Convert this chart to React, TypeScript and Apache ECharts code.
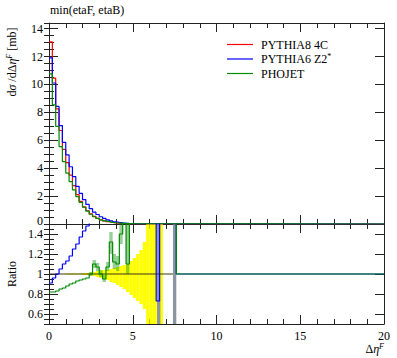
import React, { useEffect, useRef } from 'react';
import * as echarts from 'echarts';

// ---- data ----
const BIN = 0.2; // histogram bin width in Δη^F
const xTicks = [0, 5, 10, 15, 20];
const yTopTicks = [0, 2, 4, 6, 8, 10, 12, 14];
const yTopLabels = [2, 4, 6, 8, 10, 12, 14]; // "0" is drawn separately, lifted off the ratio panel's "1.4"
const yRatioTicks = [0.6, 0.8, 1, 1.2, 1.4];

// dσ/dΔη^F [mb], bins of 0.2 starting at 0
const pythia8 = [13.05, 10.45, 8.25, 6.7, 5.35, 4.4, 3.5, 2.75, 2.1, 1.62, 1.23, 0.95, 0.72, 0.54, 0.4, 0.3, 0.22, 0.16, 0.11, 0.08, 0.055, 0.04, 0.028, 0.02, 0.013];
const pythia6 = [11.9, 10.1, 8.42, 7.05, 5.85, 4.95, 4.1, 3.4, 2.7, 2.2, 1.75, 1.4, 1.1, 0.85, 0.68, 0.52, 0.4, 0.3, 0.22, 0.16, 0.12, 0.085, 0.06, 0.04, 0.028];
const phojet = [10.75, 8.54, 7.0, 5.55, 4.47, 3.65, 3.04, 2.44, 1.96, 1.55, 1.2, 0.92, 0.7, 0.52, 0.4, 0.3, 0.22, 0.17, 0.12, 0.09, 0.07, 0.05, 0.04, 0.03, 0.02];

// ratio to PYTHIA8 4C, bins of 0.2 from 0 to 7.6 (values above 1.5 are off-scale)
const ratioPythia6 = [0.91, 0.96, 1.0, 1.05, 1.1, 1.13, 1.18, 1.25, 1.3, 1.37, 1.43, 1.48,
  1.6, 1.7, 1.8, 1.8, 1.8, 1.8, 1.8, 1.8, 1.8, 1.8, 1.8, 1.8, 1.8, 1.8, 1.8, 1.8, 1.8, 1.8, 1.8, 1.8,
  0.73, 1.8, 1.8, 1.8, 1.8, 1.8];
const ratioPhojet = [0.82, 0.82, 0.83, 0.85, 0.86, 0.88, 0.9, 0.91, 0.93, 0.94, 0.95, 0.96,
  1.0, 1.1, 1.07, 1.0, 0.95, 1.07, 1.32, 1.12, 1.1, 1.4, 1.8, 1.1,
  1.8, 1.8, 1.8, 1.8, 1.8, 1.8, 1.8, 1.8, 1.8, 1.8, 1.8, 1.8, 1.8, 1.8];
const refEnd = 7.4;

// PYTHIA8 uncertainty band (yellow), bins from index 5 (Δη = 1.0)
const yellowStart = 5;
const yellowLo = [0.995, 0.995, 0.995, 0.995, 0.995, 0.99, 0.99, 0.985, 0.98,
  0.97, 0.96, 0.95, 0.94, 0.92, 0.91, 0.89, 0.87, 0.85, 0.82, 0.79, 0.76, 0.73, 0.7, 0.65,
  0.4, 0.4, 0.4, 0.4, 0.4];
const yellowHi = [1.005, 1.005, 1.005, 1.005, 1.005, 1.01, 1.01, 1.015, 1.02,
  1.03, 1.035, 1.04, 1.045, 1.05, 1.06, 1.07, 1.08, 1.09, 1.1, 1.13, 1.16, 1.2, 1.24, 1.32,
  1.6, 1.6, 1.6, 1.6, 1.6];

// PHOJET ratio uncertainty band, bins from index 12 (Δη = 2.4)
const greenBandStart = 12;
const greenBandLo = [0.98, 1.06, 1.03, 0.97, 0.92, 1.03, 1.2, 1.05, 1.03, 1.3, 1.5, 1.0];
const greenBandHi = [1.02, 1.14, 1.11, 1.04, 0.99, 1.12, 1.42, 1.2, 1.18, 1.5, 1.6, 1.6];

// very large uncertainty bins (full height)
const wideBandX0 = [6.45, 7.4];
const wideBandX1 = [6.65, 7.6];

// ---- helpers ----
const r2 = (v: number) => Math.round(v * 1000) / 1000;

function histPoints(vals: number[], tail: number) {
  const pts: number[][] = vals.map((v, i) => [r2(i * BIN), v]);
  pts.push([r2(vals.length * BIN), tail]);
  pts.push([20, tail]);
  return pts;
}

function bandData(start: number, lo: number[], hi: number[]) {
  return lo.map((l, i) => [r2((start + i) * BIN), r2((start + i + 1) * BIN), l, hi[i]]);
}

function bandRender(fill: string) {
  return (params: any, api: any) => {
    const p0 = api.coord([api.value(0), api.value(3)]);
    const p1 = api.coord([api.value(1), api.value(2)]);
    const shape = echarts.graphic.clipRectByRect(
      { x: p0[0], y: p0[1], width: p1[0] - p0[0], height: p1[1] - p0[1] },
      { x: params.coordSys.x, y: params.coordSys.y, width: params.coordSys.width, height: params.coordSys.height }
    );
    return shape ? { type: 'rect', shape, style: { fill } } : null;
  };
}

const FONT = "'Liberation Serif', 'DejaVu Serif', serif";
const AX = '#222';

function xAxisDef(gridIndex: number, position: string, labels: boolean) {
  return {
    type: 'value', gridIndex, position, min: 0, max: 20, interval: 5,
    axisLine: { show: true, onZero: false, lineStyle: { color: AX, width: 1 } },
    axisTick: { show: true, inside: true, length: 9, lineStyle: { color: AX } },
    minorTick: { show: true, splitNumber: 5, length: 5, lineStyle: { color: AX } },
    axisLabel: { show: labels, margin: 6, color: '#000', fontFamily: FONT, fontSize: 12, customValues: xTicks },
    splitLine: { show: false },
  };
}

function yMajor(gridIndex: number, position: string, min: number, max: number, ticks: number[], labels: number[] | null, padding: number[]) {
  return {
    type: 'value', gridIndex, position, min, max,
    axisLine: { show: true, onZero: false, lineStyle: { color: AX, width: 1 } },
    axisTick: { show: true, inside: true, length: 9, customValues: ticks, lineStyle: { color: AX } },
    axisLabel: { show: !!labels, margin: 6, color: '#000', fontFamily: FONT, fontSize: 12, padding, customValues: labels || ticks },
    splitLine: { show: false },
  };
}

function yMinor(gridIndex: number, position: string, min: number, max: number, interval: number) {
  return {
    type: 'value', gridIndex, position, min, max, interval,
    axisLine: { show: false },
    axisTick: { show: true, inside: true, length: 5, lineStyle: { color: AX } },
    axisLabel: { show: false },
    splitLine: { show: false },
  };
}

const baseText = { fontFamily: FONT, fontSize: 12, fill: '#000' };
const textRich = {
  i: { fontFamily: FONT, fontSize: 12, fontStyle: 'italic', fill: '#000' },
  sup: { fontFamily: FONT, fontSize: 8, fontStyle: 'italic', fill: '#000', padding: [0, 0, 6, 0] },
  supn: { fontFamily: FONT, fontSize: 8, fill: '#000', padding: [0, 0, 6, 0] },
};

export default function App() {
  const ref = useRef<HTMLDivElement>(null);
  useEffect(() => {
    if (!ref.current) return;
    const chart = echarts.init(ref.current, null, { renderer: 'svg' });
    const lineCommon = { type: 'line', step: 'end', showSymbol: false, symbol: 'none', clip: true, z: 5 };
    const option: any = {
      animation: false,
      backgroundColor: '#fff',
      grid: [
        { left: 49, top: 23, width: 335, height: 201 },
        { left: 49, top: 224, width: 335, height: 100 },
      ],
      xAxis: [
        xAxisDef(0, 'bottom', false),
        xAxisDef(0, 'top', false),
        xAxisDef(1, 'bottom', true),
        xAxisDef(1, 'top', false),
      ],
      yAxis: [
        yMajor(0, 'left', 0, 14.4, yTopTicks, yTopLabels, [0, 0, 0, 0]),
        yMinor(0, 'left', 0, 14.4, 0.5),
        yMajor(0, 'right', 0, 14.4, yTopTicks, null, [0, 0, 0, 0]),
        yMinor(0, 'right', 0, 14.4, 0.5),
        yMajor(1, 'left', 0.5, 1.5, yRatioTicks, yRatioTicks, [3, 0, 0, 0]),
        yMinor(1, 'left', 0.5, 1.5, 0.05),
        yMajor(1, 'right', 0.5, 1.5, yRatioTicks, null, [0, 0, 0, 0]),
        yMinor(1, 'right', 0.5, 1.5, 0.05),
      ],
      series: [
        { ...lineCommon, name: 'PYTHIA8 4C', xAxisIndex: 0, yAxisIndex: 0, data: histPoints(pythia8, 0), lineStyle: { color: '#ff0000', width: 1.2 } },
        { ...lineCommon, name: 'PYTHIA6 Z2*', xAxisIndex: 0, yAxisIndex: 0, data: histPoints(pythia6, 0), lineStyle: { color: '#0000ff', width: 1.2 } },
        { ...lineCommon, name: 'PHOJET', xAxisIndex: 0, yAxisIndex: 0, data: histPoints(phojet, 0), lineStyle: { color: '#008a00', width: 1.2 } },
        {
          type: 'custom', xAxisIndex: 2, yAxisIndex: 4, z: 1,
          renderItem: bandRender('#ffff00'),
          encode: { x: [0, 1], y: [2, 3] },
          data: bandData(yellowStart, yellowLo, yellowHi),
        },
        {
          type: 'custom', xAxisIndex: 2, yAxisIndex: 4, z: 2,
          renderItem: bandRender('rgba(0,138,0,0.4)'),
          encode: { x: [0, 1], y: [2, 3] },
          data: bandData(greenBandStart, greenBandLo, greenBandHi),
        },
        {
          type: 'custom', xAxisIndex: 2, yAxisIndex: 4, z: 2,
          renderItem: bandRender('#8c96a2'),
          encode: { x: [0, 1], y: [2, 3] },
          data: wideBandX0.map((x0, i) => [x0, wideBandX1[i], 0.4, 1.6]),
        },
        { ...lineCommon, step: false, xAxisIndex: 2, yAxisIndex: 4, data: [[0, 1], [refEnd, 1]], lineStyle: { color: '#3a3a10', width: 1.2 } },
        { ...lineCommon, xAxisIndex: 2, yAxisIndex: 4, data: histPoints(ratioPythia6, 1), lineStyle: { color: '#0000ff', width: 1.2 } },
        { ...lineCommon, xAxisIndex: 2, yAxisIndex: 4, data: histPoints(ratioPhojet, 1), lineStyle: { color: '#008a00', width: 1.2 } },
      ],
      graphic: [
        { type: 'text', x: 50, y: 10, style: { ...baseText, text: 'min(etaF, etaB)', verticalAlign: 'middle', align: 'left' } },
        { type: 'text', x: 43, y: 220.5, style: { ...baseText, text: '0', verticalAlign: 'middle', align: 'right' } },
        {
          type: 'text', x: 12, y: 62, rotation: Math.PI / 2,
          style: { ...baseText, text: 'd{i|σ} /d\u0394{i|η}{sup|F} [mb]', align: 'center', verticalAlign: 'middle', rich: textRich },
        },
        {
          type: 'text', x: 12, y: 274, rotation: Math.PI / 2,
          style: { ...baseText, text: 'Ratio', align: 'center', verticalAlign: 'middle' },
        },
        {
          type: 'text', x: 384, y: 349,
          style: { ...baseText, text: '\u0394{i|η}{sup|F}', align: 'right', verticalAlign: 'middle', rich: textRich },
        },
        { type: 'line', shape: { x1: 227, y1: 44.5, x2: 253, y2: 44.5 }, style: { stroke: '#ff0000', lineWidth: 1.2 } },
        { type: 'line', shape: { x1: 227, y1: 59, x2: 253, y2: 59 }, style: { stroke: '#0000ff', lineWidth: 1.2 } },
        { type: 'line', shape: { x1: 227, y1: 73.5, x2: 253, y2: 73.5 }, style: { stroke: '#008a00', lineWidth: 1.2 } },
        { type: 'text', x: 261, y: 44.5, style: { ...baseText, text: 'PYTHIA8 4C', verticalAlign: 'middle' } },
        { type: 'text', x: 261, y: 59, style: { ...baseText, text: 'PYTHIA6 Z2{supn|*}', verticalAlign: 'middle', rich: textRich } },
        { type: 'text', x: 261, y: 73.5, style: { ...baseText, text: 'PHOJET', verticalAlign: 'middle' } },
      ],
    };
    chart.setOption(option);
    return () => chart.dispose();
  }, []);
  return <div ref={ref} style={{ position: 'absolute', left: 0, top: 0, width: 397, height: 358 }} />;
}
